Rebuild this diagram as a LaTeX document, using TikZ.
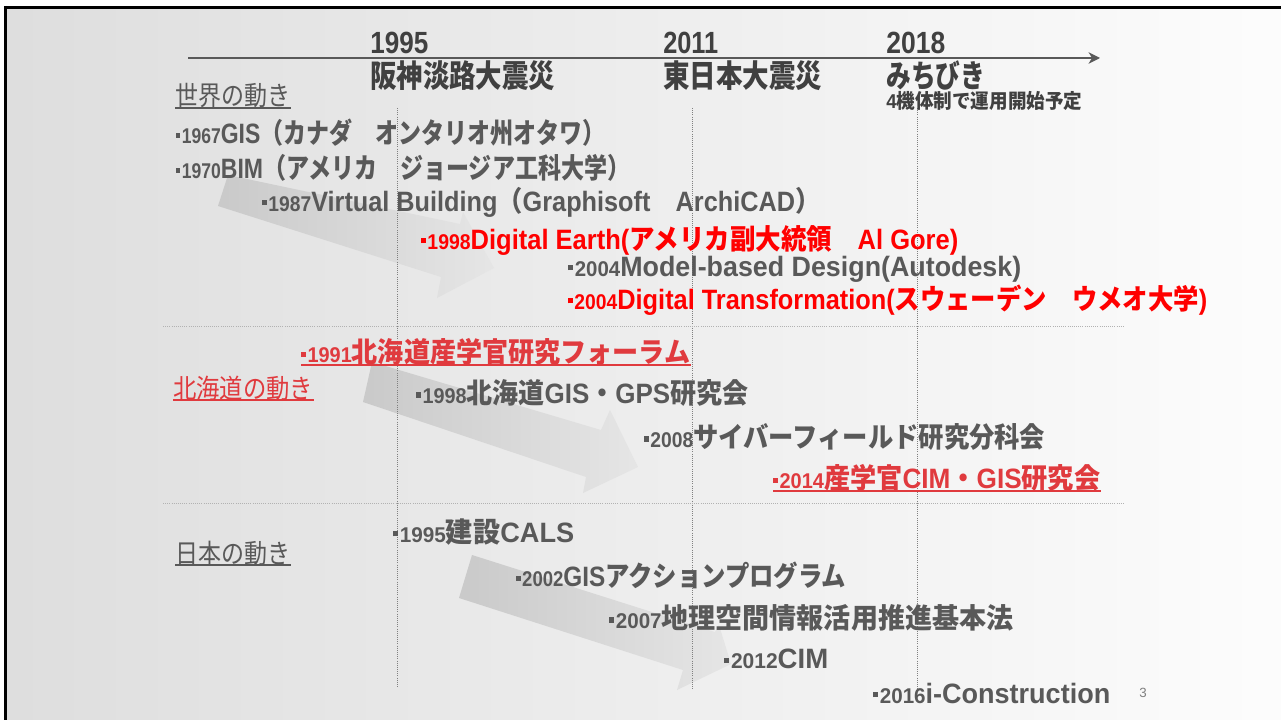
\documentclass[tikz,border=0pt]{standalone}
\usepackage{fontspec}
\usepackage{graphicx}
\setmainfont{Liberation Sans}
\newfontfamily\jp{Noto Sans CJK JP}
\usetikzlibrary{arrows.meta}
\newlength\px \setlength\px{0.75pt}
\definecolor{tgray}{HTML}{595959}
\definecolor{hgray}{HTML}{404040}
\definecolor{redA}{HTML}{FF0000}
\definecolor{redB}{HTML}{E03A3E}
\newcommand\sq{\raisebox{0.28em}{\rule{0.24em}{0.24em}}\hspace{0.08em}}
\newcommand\ent[3]{\resizebox{#1\px}{\height}{\bfseries\fontsize{16}{18}\selectfont\sq#2\fontsize{21}{23}\selectfont#3}}
\newcommand\fw[2]{\resizebox{#1\px}{\height}{#2}}
\tikzset{
  txt/.style={inner sep=0pt, anchor=west},
  vline/.style={draw=black!50, line width=0.6pt, densely dotted},
  hline/.style={draw=black!30, line width=0.6pt, densely dotted},
  bigarrow/.style={left color=black!21, right color=black!10, draw=none},
  ulgray/.style={draw=tgray, line width=1.3pt},
  ulred/.style={draw=redB, line width=1.5pt},
}
\begin{document}
\begin{tikzpicture}[x=0.75pt,y=-0.75pt]
\useasboundingbox (0,0) rectangle (1281,720);
\fill[white] (0,0) rectangle (1281,720);
\shade[left color=black!13, right color=black!1] (5,7) rectangle (1281,720);
\draw[black, line width=2.4pt] (4,7.5) -- (1281,7.5);
\draw[black, line width=2.4pt] (5.5,6) -- (5.5,720);

% big gradient arrows
\shade[bigarrow] (228,175) -- (460,224) -- (463,212) -- (494,268) -- (437,298) -- (441,277) -- (218,206) -- cycle;
\shade[bigarrow] (372,362) -- (601,430) -- (610,410) -- (638,467) -- (583,493) -- (586,477) -- (363,402) -- cycle;
\shade[bigarrow] (472,555) -- (715,632) -- (719,625) -- (731,664) -- (677,690) -- (683,670) -- (459,598) -- cycle;

% grid
\coordinate (v1t) at (397,108); \coordinate (v1b) at (397,688);
\coordinate (v2t) at (692,108); \coordinate (v2b) at (692,690);
\coordinate (v3t) at (917,108); \coordinate (v3b) at (917,690);
\draw[vline] (v1t) -- (v1b);
\draw[vline] (v2t) -- (v2b);
\draw[vline] (v3t) -- (v3b);
\coordinate (h1l) at (163,326); \coordinate (h1r) at (1125,326);
\coordinate (h2l) at (163,503); \coordinate (h2r) at (1125,503);
\draw[hline] (h1l) -- (h1r);
\draw[hline] (h2l) -- (h2r);

% timeline
\coordinate (ta) at (188,58); \coordinate (tb) at (1100,58);
\draw[draw=tgray, line width=2.2pt, -{Stealth[length=8.5pt,width=8.5pt,inset=2.5pt]}] (ta) -- (tb);

% headers
\node[txt,text=hgray] (y1) at (370,43) {\fw{58}{\bfseries\fontsize{23}{25}\selectfont 1995}};
\node[txt,text=hgray] (e1) at (370,76) {\fw{185}{\jp\bfseries\fontsize{23.5}{25}\selectfont 阪神淡路大震災}};
\node[txt,text=hgray] (y2) at (663,43) {\fw{55}{\bfseries\fontsize{23}{25}\selectfont 2011}};
\node[txt,text=hgray] (e2) at (663,76) {\fw{159}{\jp\bfseries\fontsize{23.5}{25}\selectfont 東日本大震災}};
\node[txt,text=hgray] (y3) at (886,43) {\fw{59}{\bfseries\fontsize{23}{25}\selectfont 2018}};
\node[txt,text=hgray] (e3) at (886,76) {\fw{99}{\jp\bfseries\fontsize{23.5}{25}\selectfont みちびき}};
\node[txt,text=hgray] (e3b) at (886,101) {\fw{196}{\bfseries\fontsize{15}{17}\selectfont 4{\jp 機体制で運用開始予定}}};

% section labels
\node[txt,text=tgray] (s1) at (175,96) {\fw{115}{\jp\fontsize{20}{22}\selectfont 世界の動き}};
\node[txt,text=redB] (s2) at (173,388) {\fw{140}{\jp\fontsize{20}{22}\selectfont 北海道の動き}};
\node[txt,text=tgray] (s3) at (175,553) {\fw{115}{\jp\fontsize{20}{22}\selectfont 日本の動き}};
\draw[ulgray] ([yshift=0.5pt]s1.south west) -- ([yshift=0.5pt]s1.south east);
\draw[ulred] ([yshift=0.5pt]s2.south west) -- ([yshift=0.5pt]s2.south east);
\draw[ulgray] ([yshift=0.5pt]s3.south west) -- ([yshift=0.5pt]s3.south east);

% world items
\node[txt,text=tgray] (w1) at (176,133) {\ent{429}{1967}{GIS{\jp （カナダ　オンタリオ州オタワ）}}};
\node[txt,text=tgray] (w2) at (176,168) {\ent{454}{1970}{BIM{\jp （アメリカ　ジョージア工科大学）}}};
\node[txt,text=tgray] (w3) at (262,202) {\ent{558}{1987}{Virtual Building{\jp （}Graphisoft{\jp 　}ArchiCAD{\jp ）}}};
\node[txt,text=redA] (w4) at (421,240) {\ent{537}{1998}{Digital Earth({\jp アメリカ副大統領　}Al Gore)}};
\node[txt,text=tgray] (w5) at (568,269) {\ent{453}{2004}{Model-based Design(Autodesk)}};
\node[txt,text=redA] (w6) at (568,300) {\ent{639}{2004}{Digital Transformation({\jp スウェーデン　ウメオ大学})}};

% hokkaido items
\node[txt,text=redB] (k1) at (301,352) {\ent{389}{1991}{{\jp 北海道産学官研究フォーラム}}};
\draw[ulred] ([yshift=0.5pt]k1.south west) -- ([yshift=0.5pt]k1.south east);
\node[txt,text=tgray] (k2) at (416,393) {\ent{332}{1998}{{\jp 北海道}GIS{\jp ・}GPS{\jp 研究会}}};
\node[txt,text=tgray] (k3) at (644,437) {\ent{401}{2008}{{\jp サイバーフィールド研究分科会}}};
\node[txt,text=redB] (k4) at (773,478) {\ent{327}{2014}{{\jp 産学官}CIM{\jp ・}GIS{\jp 研究会}}};
\draw[ulred] ([yshift=0.5pt]k4.south west) -- ([yshift=0.5pt]k4.south east);

% japan items
\node[txt,text=tgray] (j1) at (393,532) {\ent{181}{1995}{{\jp 建設}CALS}};
\node[txt,text=tgray] (j2) at (516,576) {\ent{330}{2002}{GIS{\jp アクションプログラム}}};
\node[txt,text=tgray] (j3) at (609,618) {\ent{404}{2007}{{\jp 地理空間情報活用推進基本法}}};
\node[txt,text=tgray] (j4) at (724,659) {\ent{104}{2012}{CIM}};
\node[txt,text=tgray] (j5) at (873,693) {\ent{237}{2016}{i-Construction}};

% page number
\node[text=black!50, inner sep=0pt] (pg) at (1143,693) {\fontsize{10}{11}\selectfont 3};
\end{tikzpicture}
\end{document}
